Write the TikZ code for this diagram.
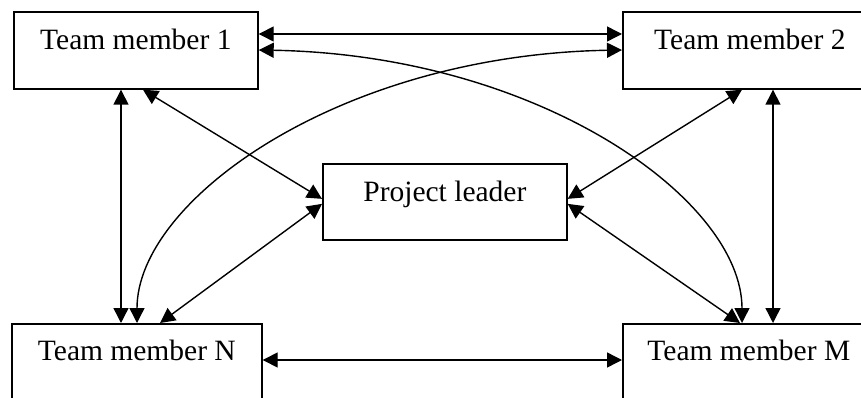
\documentclass[tikz,border=0pt]{standalone}
\usepackage{fontspec}
\setmainfont{Liberation Serif}
\usetikzlibrary{arrows.meta}
\begin{document}
\begin{tikzpicture}[x=1pt,y=-1pt,
  member/.style={draw,line width=1.7pt,rectangle,anchor=north west,inner sep=0pt,
    minimum height=77pt,text height=38pt,text depth=39pt,font=\fontsize{29.5}{32}\selectfont},
  link/.style={line width=1.4pt,{Triangle[length=15pt,width=15pt]}-{Triangle[length=15pt,width=15pt]}}]
  \useasboundingbox (0,0) rectangle (861,398);
  \clip (0,0) rectangle (861,398);

  % the five boxes
  \node[member,minimum width=244pt] (tm1) at (13,11) {Team member 1};
  \node[member,minimum width=254pt] (tm2) at (622,11) {Team member 2};
  \node[member,minimum width=244pt,minimum height=76pt,text depth=38pt] (pl) at (322,163) {Project leader};
  \node[member,minimum width=250pt,text height=37pt,text depth=40pt] (tmn) at (11,323) {Team member N};
  \node[member,minimum width=252pt,text height=37pt,text depth=40pt] (tmm) at (622,323) {Team member M};

  % straight links between the members on one row
  \draw[link] ([yshift=-23pt]tm1.north east) -- ([yshift=-23pt]tm2.north west);
  \draw[link] ([yshift=-37pt]tmn.north east) -- ([yshift=-37pt]tmm.north west);

  % straight links between the members in one column
  \draw[link] ([xshift=108pt]tm1.south west) -- ([xshift=108pt]tm1.south west |- tmn.north);
  \draw[link] ([xshift=151pt]tm2.south west) -- ([xshift=151pt]tm2.south west |- tmm.north);

  % links to the project leader
  \draw[link] ([xshift=130pt]tm1.south west) -- ([yshift=3pt]pl.west);
  \draw[link] ([xshift=149pt]tmn.north west) -- ([yshift=-2pt]pl.west);
  \draw[link] ([xshift=120pt]tm2.south west) -- ([yshift=3pt]pl.east);
  \draw[link] ([xshift=118pt]tmm.north west) -- ([yshift=-2pt]pl.east);

  % diagonal links, drawn as crossing curves
  \draw[link] ([yshift=-39pt]tm1.north east) .. controls (540,55) and (742,200) .. ([xshift=120pt]tmm.north west);
  \draw[link] ([yshift=-39pt]tm2.north west) .. controls (340,55) and (137,200) .. ([xshift=126pt]tmn.north west);
\end{tikzpicture}
\end{document}
